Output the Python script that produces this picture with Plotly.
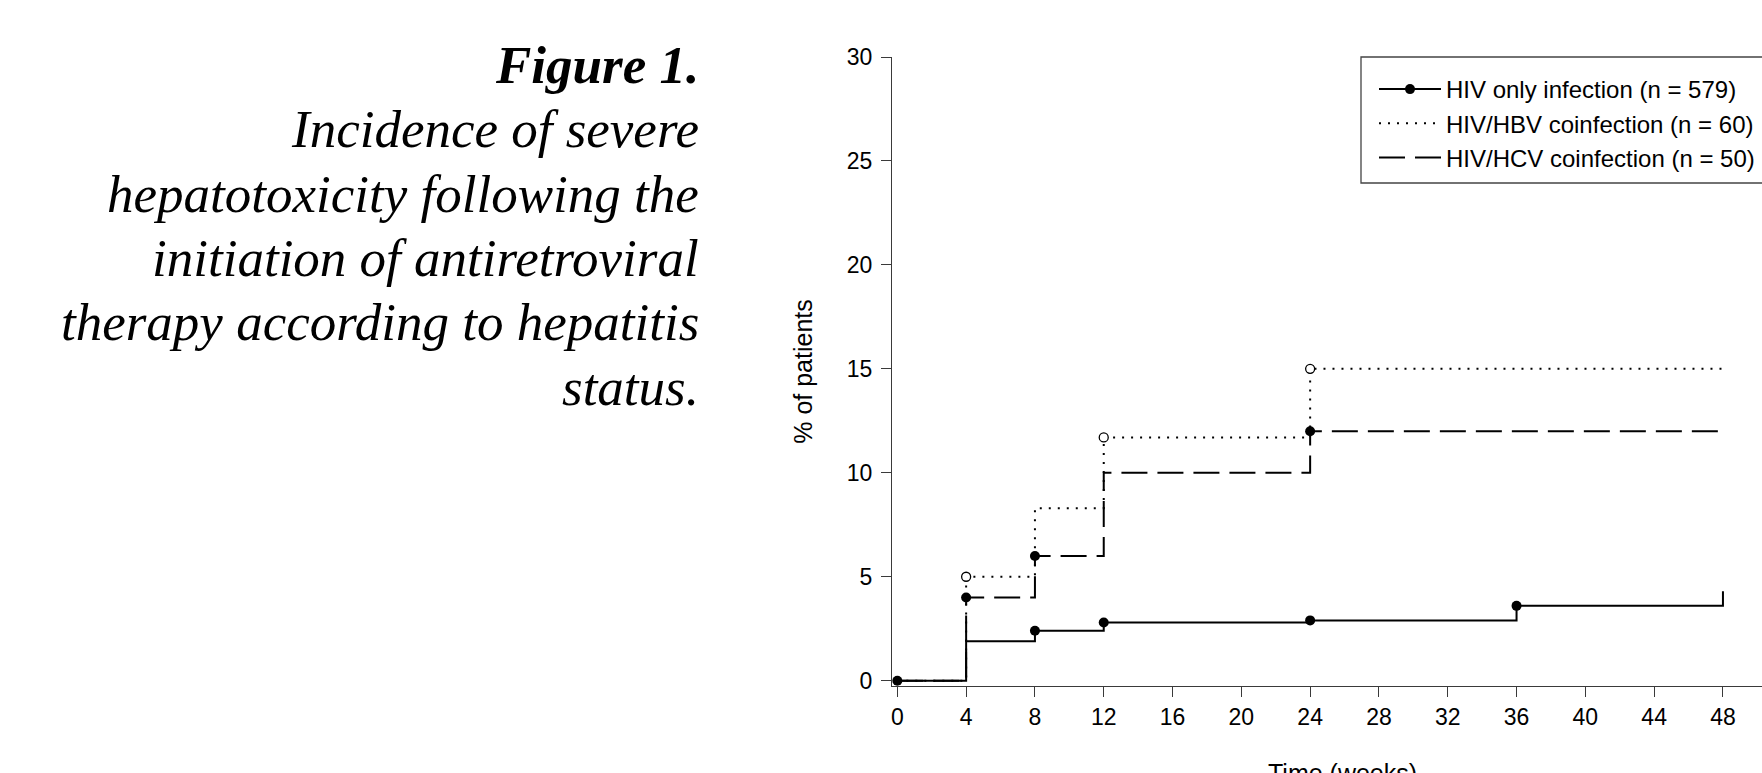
import plotly.graph_objects as go

# ---------------- data ----------------
weeks = [0, 4, 8, 12, 24, 36, 48]
hiv_only = [0.0, 1.9, 2.4, 2.8, 2.9, 3.6, 4.3]
hiv_hbv = [0.0, 5.0, 8.3, 11.7, 15.0, 15.0, 15.0]
hiv_hcv = [0.0, 4.0, 6.0, 10.0, 12.0, 12.0, 12.0]
hiv_only_marked_weeks = [0, 8, 12, 24, 36]
hiv_hbv_marked_weeks = [4, 12, 24]
hiv_hcv_marked_weeks = [4, 8, 24]
series_names = ["HIV only infection (n = 579)",
                "HIV/HBV coinfection (n = 60)",
                "HIV/HCV coinfection (n = 50)"]
x_ticks = [0, 4, 8, 12, 16, 20, 24, 28, 32, 36, 40, 44, 48]
y_ticks = [0, 5, 10, 15, 20, 25, 30]
x_title = "Time (weeks)"
y_title = "% of patients"
caption_head = "Figure 1."
caption_lines = ["Incidence of severe",
                 "hepatotoxicity following the",
                 "initiation of antiretroviral",
                 "therapy according to hepatitis",
                 "status."]

# ---------------- layout geometry ----------------
W, H = 1762, 773
ML, MR, MT, MB = 892, 0, 57, 87
PW, PH = W - ML - MR, H - MT - MB


def px_x(p):
    return (p - ML) / PW


def px_y(p):
    return (H - MB - p) / PH


SANS = "Liberation Sans, Arial, Helvetica, sans-serif"
SERIF = "Liberation Serif, Times New Roman, serif"
INK = "#000000"
AXIS = "#3a3a3a"
CLEAR = "rgba(0,0,0,0)"

fig = go.Figure()

hbv_lookup = dict(zip(weeks, hiv_hbv))
hcv_lookup = dict(zip(weeks, hiv_hcv))

fig.add_trace(go.Scatter(
    x=weeks, y=hiv_only, name=series_names[0], mode="lines+markers",
    line=dict(shape="hv", color=INK, width=2),
    marker=dict(size=10, opacity=1,
                color=[INK if w in hiv_only_marked_weeks else CLEAR for w in weeks]),
    cliponaxis=False))
fig.add_trace(go.Scatter(
    x=weeks, y=hiv_hbv, name=series_names[1], mode="lines",
    line=dict(shape="hv", color=INK, width=2, dash="2px,7px"),
    cliponaxis=False))
fig.add_trace(go.Scatter(
    x=weeks, y=hiv_hcv, name=series_names[2], mode="lines",
    line=dict(shape="hv", color=INK, width=2, dash="26px,10px"),
    cliponaxis=False))
fig.add_trace(go.Scatter(
    x=hiv_hcv_marked_weeks, y=[hcv_lookup[w] for w in hiv_hcv_marked_weeks],
    mode="markers", showlegend=False,
    marker=dict(color=INK, size=10, opacity=1), cliponaxis=False))
fig.add_trace(go.Scatter(
    x=hiv_hbv_marked_weeks, y=[hbv_lookup[w] for w in hiv_hbv_marked_weeks],
    mode="markers", showlegend=False,
    marker=dict(color="white", size=9, opacity=1, line=dict(color=INK, width=1.3)),
    cliponaxis=False))

# legend frame (right side runs off the page, as in the reference)
fig.add_shape(type="rect", xref="paper", yref="paper",
              x0=px_x(1361), x1=px_x(1900), y0=px_y(183), y1=px_y(57),
              line=dict(color="#444444", width=1.3), fillcolor=CLEAR)

# caption, one annotation per line
cap_top = 65.2
cap_step = 64.3
all_lines = ["<b>" + caption_head + "</b>"] + caption_lines
for i, ln in enumerate(all_lines):
    fig.add_annotation(text=ln, xref="paper", yref="paper",
                       x=px_x(701), y=px_y(cap_top + i * cap_step),
                       xanchor="right", yanchor="middle",
                       align="right", showarrow=False,
                       font=dict(family=SERIF, size=53, color=INK, style="italic"))

# x-axis title: in the reference it sits partly below the cropped bottom edge
fig.add_annotation(text=x_title, xref="paper", yref="paper",
                   x=px_x(1342), y=px_y(773), xanchor="center", yanchor="middle",
                   showarrow=False,
                   font=dict(family=SANS, size=25, color=INK))

fig.update_layout(
    width=W, height=H,
    margin=dict(l=ML, r=MR, t=MT, b=MB, pad=0, autoexpand=False),
    paper_bgcolor="white", plot_bgcolor="white",
    font=dict(family=SANS, size=23, color=INK),
    showlegend=True,
    legend=dict(x=px_x(1374), y=px_y(67), xanchor="left", yanchor="top",
                bgcolor=CLEAR, borderwidth=0,
                font=dict(family=SANS, size=24, color=INK),
                itemwidth=62, traceorder="normal"),
    xaxis=dict(range=[-0.31, 50.27], tickvals=x_ticks, ticks="outside",
               ticklen=10, tickwidth=1.3, tickcolor=AXIS, showline=True,
               linecolor=AXIS, linewidth=1.3, showgrid=False, zeroline=False,
               tickfont=dict(family=SANS, size=23, color=INK)),
    yaxis=dict(range=[-0.255, 30], tickvals=y_ticks, ticks="outside",
               ticklen=10, tickwidth=1.3, tickcolor=AXIS, showline=True,
               linecolor=AXIS, linewidth=1.3, showgrid=False, zeroline=False,
               ticklabelstandoff=4,
               title=dict(text=y_title, standoff=26,
                          font=dict(family=SANS, size=25, color=INK)),
               tickfont=dict(family=SANS, size=23, color=INK)),
)

fig.write_html("out.html", config={"displayModeBar": False},
               post_script="document.body.style.margin='0';document.body.style.overflow='hidden';")
